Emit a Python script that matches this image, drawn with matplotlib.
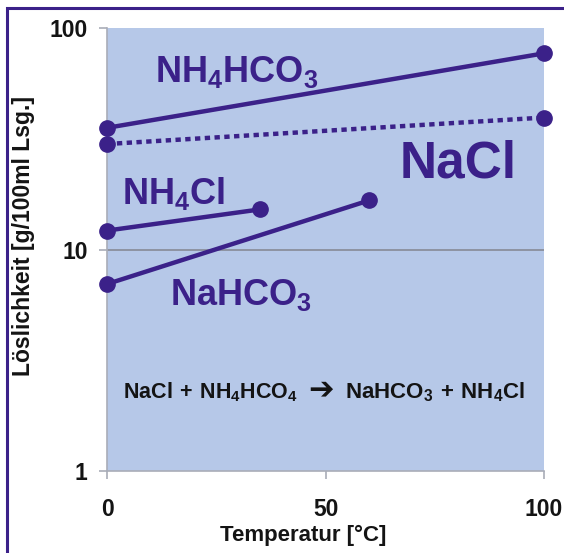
import matplotlib
matplotlib.use('Agg')
from matplotlib import pyplot as plt
from matplotlib.patches import Rectangle

plt.rcParams['font.family'] = ['Liberation Sans', 'DejaVu Sans']
plt.rcParams['font.weight'] = 'bold'
plt.rcParams['mathtext.fontset'] = 'custom'
plt.rcParams['mathtext.rm'] = 'Liberation Sans:bold'

# solubility data (temperature in C, g per 100 ml solution)
nh4hco3_t = [0, 100]
nh4hco3_s = [35.5, 77]
nacl_t = [0, 100]
nacl_s = [30, 39.5]
nh4cl_t = [0, 35]
nh4cl_s = [12.2, 15.2]
nahco3_t = [0, 60]
nahco3_s = [7.0, 16.7]

x_ticks = [0, 50, 100]
y_ticks = [1, 10, 100]

purple = '#3b2189'
bg = '#b6c8e8'
gray = '#8a8f9c'
dark = '#141414'

fig = plt.figure(figsize=(5.64, 5.53), dpi=100)
ax = fig.add_axes([0.190, 0.148, 0.7745, 0.801])
ax.set_facecolor(bg)

# frame around the whole figure
fig.add_artist(Rectangle((0.0125, -0.1), 1.2, 1.0855, transform=fig.transFigure,
                         fill=False, edgecolor=purple, lw=2.2))

ax.plot(nh4hco3_t, nh4hco3_s, '-o', color=purple, lw=3.2, ms=11, clip_on=False, zorder=3)
ax.plot(nacl_t, nacl_s, color=purple, lw=3.2, ls=(0, (1.2, 1.0)), zorder=3)
ax.plot(nacl_t, nacl_s, 'o', color=purple, ms=11, clip_on=False, zorder=3)
ax.plot(nh4cl_t, nh4cl_s, '-o', color=purple, lw=3.2, ms=11, clip_on=False, zorder=3)
ax.plot(nahco3_t, nahco3_s, '-o', color=purple, lw=3.2, ms=11, clip_on=False, zorder=3)

ax.set_yscale('log')
ax.set_xlim(0, 100)
ax.set_ylim(1, 100)
ax.set_xticks(x_ticks)
ax.set_xticklabels([str(v) for v in x_ticks])
ax.set_yticks(y_ticks)
ax.set_yticklabels([str(v) for v in y_ticks])
ax.minorticks_off()
ax.axhline(10, color=gray, lw=1.3, zorder=1)

for s in ['top', 'right']:
    ax.spines[s].set_visible(False)
for s in ['left', 'bottom']:
    ax.spines[s].set_color('#a9adb8')
    ax.spines[s].set_linewidth(1.2)
ax.tick_params(axis='both', colors='#a9adb8', length=6, width=1.2, labelsize=16.5,
               labelcolor=dark)
ax.tick_params(axis='x', pad=13)
ax.tick_params(axis='y', pad=8)

ax.set_xlabel('Temperatur [°C]', fontsize=16, fontweight='bold', color=dark)
ax.set_ylabel('Löslichkeit [g/100ml Lsg.]', fontsize=16.5, fontweight='bold', color=dark)
ax.xaxis.set_label_coords(0.449, -0.122)
ax.yaxis.set_label_coords(-0.166, 0.53)

# series labels
ax.text(11, 57, r'$\mathrm{NH_4HCO_3}$', color=purple, fontsize=26, va='baseline')
ax.text(67, 21.2, 'NaCl', color=purple, fontsize=37, va='baseline')
ax.text(3.5, 16.1, r'$\mathrm{NH_4Cl}$', color=purple, fontsize=26, va='baseline')
ax.text(14.5, 5.6, r'$\mathrm{NaHCO_3}$', color=purple, fontsize=26, va='baseline')

# reaction equation
ax.text(43.7, 2.12, r'$\mathrm{NaCl}\ {+}\ \mathrm{NH_4HCO_4}$', color=dark, fontsize=15.5,
        ha='right', va='baseline')
ax.text(49.0, 2.12, '➔', color=dark, fontsize=22, family='DejaVu Sans',
        ha='center', va='baseline')
ax.text(54.5, 2.12, r'$\mathrm{NaHCO_3}\ {+}\ \mathrm{NH_4Cl}$', color=dark, fontsize=16,
        ha='left', va='baseline')

fig.savefig('out.png', dpi=100)
